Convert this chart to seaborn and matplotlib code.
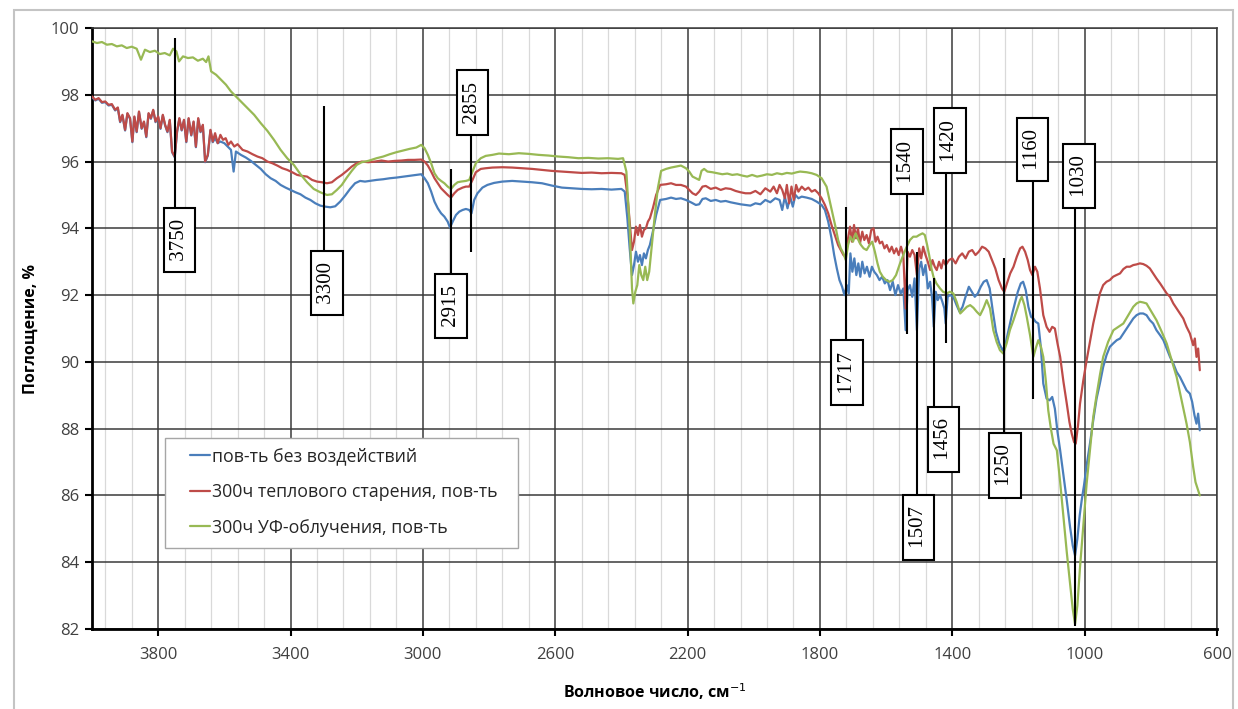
import numpy as np
import pandas as pd
import matplotlib
matplotlib.use("Agg")
import matplotlib.pyplot as plt
from matplotlib.patches import Rectangle
import seaborn as sns

# spectra: (wavenumber cm-1, %)
blue = [
    (4000, 97.93), (3990, 97.83), (3980, 97.88), (3970, 97.76), (3960, 97.78), (3950, 97.68),
    (3940, 97.70), (3930, 97.53), (3922, 97.60), (3915, 97.18), (3908, 97.38), (3900, 96.93),
    (3893, 97.43), (3885, 97.28), (3878, 96.58), (3872, 97.33), (3865, 96.88), (3858, 97.48),
    (3850, 96.98), (3843, 97.18), (3836, 96.73), (3829, 97.43), (3822, 97.28), (3815, 97.53),
    (3808, 97.18), (3800, 97.33), (3793, 96.98), (3786, 97.38), (3779, 97.08), (3772, 96.88),
    (3765, 97.23), (3758, 96.28), (3750, 96.13), (3743, 96.88), (3736, 97.28), (3729, 96.93),
    (3722, 97.23), (3715, 96.58), (3708, 97.28), (3700, 96.78), (3693, 97.18), (3686, 96.43),
    (3679, 97.28), (3672, 96.88), (3665, 97.08), (3658, 95.98), (3650, 96.18), (3642, 96.93),
    (3635, 96.58), (3628, 96.70), (3620, 96.55), (3612, 96.60), (3600, 96.55), (3590, 96.45),
    (3580, 96.35), (3572, 95.70), (3565, 96.30), (3550, 96.20), (3535, 96.12), (3520, 96.02),
    (3505, 95.90), (3490, 95.78), (3475, 95.62), (3460, 95.50), (3445, 95.42), (3430, 95.30),
    (3415, 95.22), (3400, 95.15), (3385, 95.08), (3370, 95.02), (3355, 94.92), (3340, 94.85),
    (3325, 94.75), (3310, 94.68), (3295, 94.65), (3280, 94.63), (3265, 94.66), (3250, 94.80),
    (3235, 94.98), (3220, 95.18), (3205, 95.35), (3190, 95.42), (3175, 95.40), (3160, 95.42),
    (3140, 95.45), (3120, 95.47), (3100, 95.50), (3080, 95.52), (3060, 95.55), (3040, 95.57),
    (3020, 95.60), (3005, 95.62), (2995, 95.50), (2985, 95.35), (2975, 95.10), (2965, 94.80),
    (2955, 94.60), (2945, 94.45), (2935, 94.35), (2925, 94.20), (2918, 94.02), (2910, 94.20),
    (2900, 94.40), (2890, 94.50), (2880, 94.55), (2870, 94.58), (2860, 94.55), (2853, 94.45),
    (2845, 94.85), (2835, 95.05), (2820, 95.22), (2805, 95.30), (2785, 95.36), (2760, 95.40),
    (2730, 95.42), (2700, 95.40), (2670, 95.38), (2640, 95.35), (2610, 95.28), (2580, 95.22),
    (2550, 95.20), (2520, 95.18), (2490, 95.17), (2460, 95.18), (2430, 95.16), (2400, 95.18),
    (2390, 95.10), (2382, 94.30), (2375, 93.40), (2368, 92.60), (2362, 92.90), (2356, 93.30),
    (2350, 93.00), (2344, 93.20), (2338, 92.90), (2332, 93.25), (2326, 93.10), (2320, 93.35),
    (2314, 93.50), (2305, 93.90), (2295, 94.40), (2283, 94.85), (2265, 94.88), (2250, 94.92),
    (2235, 94.88), (2220, 94.90), (2205, 94.85), (2190, 94.78), (2175, 94.70), (2165, 94.72),
    (2155, 94.88), (2145, 94.90), (2130, 94.82), (2115, 94.85), (2100, 94.80), (2085, 94.82),
    (2070, 94.78), (2055, 94.75), (2040, 94.72), (2025, 94.70), (2010, 94.68), (1995, 94.75),
    (1980, 94.72), (1965, 94.85), (1950, 94.78), (1935, 94.90), (1922, 94.85), (1914, 94.55),
    (1906, 94.95), (1898, 94.60), (1890, 94.95), (1882, 94.65), (1874, 95.00), (1865, 94.90),
    (1855, 94.95), (1840, 94.92), (1825, 94.88), (1810, 94.80), (1795, 94.70), (1785, 94.55),
    (1775, 94.20), (1765, 93.70), (1757, 93.20), (1749, 92.80), (1741, 92.45), (1733, 92.25),
    (1726, 92.00), (1719, 92.30), (1713, 92.05), (1708, 93.25), (1702, 92.70), (1696, 93.10),
    (1690, 92.60), (1684, 92.95), (1678, 92.55), (1672, 93.00), (1665, 92.65), (1658, 92.85),
    (1650, 92.55), (1643, 92.85), (1636, 92.70), (1628, 92.60), (1620, 92.45), (1612, 92.55),
    (1604, 92.35), (1596, 92.45), (1588, 92.15), (1580, 92.40), (1572, 92.00), (1564, 92.30),
    (1556, 92.05), (1548, 92.20), (1541, 90.95), (1535, 92.15), (1528, 92.30), (1521, 91.95),
    (1514, 92.50), (1507, 90.95), (1500, 92.80), (1494, 93.00), (1488, 92.60), (1481, 92.90),
    (1474, 92.20), (1467, 92.40), (1461, 91.90), (1456, 91.05), (1450, 92.10), (1444, 91.85),
    (1437, 92.00), (1430, 91.80), (1424, 91.60), (1420, 91.15), (1414, 91.95), (1407, 92.00),
    (1397, 91.95), (1387, 91.70), (1378, 91.50), (1369, 91.65), (1360, 91.95), (1350, 92.25),
    (1341, 92.10), (1332, 91.95), (1323, 92.05), (1314, 92.25), (1305, 92.40), (1296, 92.45),
    (1287, 92.20), (1278, 91.55), (1268, 90.90), (1258, 90.55), (1248, 90.35), (1240, 90.50),
    (1230, 90.95), (1220, 91.40), (1211, 91.75), (1202, 92.10), (1193, 92.35), (1186, 92.40),
    (1178, 92.15), (1170, 91.65), (1162, 91.35), (1155, 91.30), (1148, 91.20), (1140, 91.15),
    (1132, 90.40), (1125, 89.35), (1115, 88.90), (1106, 88.85), (1098, 88.95), (1090, 88.60),
    (1082, 87.90), (1074, 87.35), (1064, 86.60), (1054, 85.85), (1044, 85.05), (1036, 84.50),
    (1029, 84.20), (1022, 84.70), (1015, 85.40), (1009, 85.85), (1002, 86.30), (994, 86.90),
    (984, 87.55), (974, 88.25), (964, 88.90), (954, 89.35), (944, 89.85), (934, 90.20),
    (924, 90.45), (914, 90.55), (903, 90.65), (893, 90.70), (883, 90.85), (873, 91.00),
    (863, 91.15), (853, 91.30), (843, 91.40), (833, 91.45), (823, 91.45), (813, 91.40),
    (803, 91.25), (793, 91.15), (783, 90.95), (772, 90.80), (762, 90.65), (752, 90.40),
    (742, 90.15), (732, 89.95), (722, 89.70), (712, 89.55), (702, 89.35), (692, 89.15),
    (682, 89.05), (675, 88.80), (668, 88.40), (662, 88.15), (657, 88.45), (652, 87.95),
]

red = [
    (4000, 97.95), (3990, 97.85), (3980, 97.90), (3970, 97.78), (3960, 97.80), (3950, 97.70),
    (3940, 97.72), (3930, 97.55), (3922, 97.62), (3915, 97.20), (3908, 97.40), (3900, 96.95),
    (3893, 97.45), (3885, 97.30), (3878, 96.60), (3872, 97.35), (3865, 96.90), (3858, 97.50),
    (3850, 97.00), (3843, 97.20), (3836, 96.75), (3829, 97.45), (3822, 97.30), (3815, 97.55),
    (3808, 97.20), (3800, 97.35), (3793, 97.00), (3786, 97.40), (3779, 97.10), (3772, 96.90),
    (3765, 97.25), (3758, 96.30), (3750, 96.15), (3743, 96.90), (3736, 97.30), (3729, 96.95),
    (3722, 97.25), (3715, 96.60), (3708, 97.30), (3700, 96.80), (3693, 97.20), (3686, 96.45),
    (3679, 97.30), (3672, 96.90), (3665, 97.10), (3658, 96.00), (3650, 96.20), (3642, 96.95),
    (3635, 96.60), (3628, 96.85), (3620, 96.55), (3612, 96.80), (3604, 96.65), (3596, 96.70),
    (3588, 96.50), (3580, 96.60), (3570, 96.45), (3560, 96.52), (3545, 96.35), (3530, 96.30),
    (3515, 96.22), (3500, 96.15), (3485, 96.10), (3470, 96.00), (3455, 95.95), (3440, 95.88),
    (3425, 95.80), (3410, 95.75), (3395, 95.68), (3380, 95.60), (3365, 95.57), (3350, 95.55),
    (3335, 95.45), (3320, 95.40), (3305, 95.38), (3290, 95.35), (3275, 95.38), (3260, 95.50),
    (3245, 95.60), (3230, 95.72), (3215, 95.85), (3200, 95.95), (3185, 96.00), (3165, 95.98),
    (3145, 96.00), (3125, 96.03), (3105, 96.00), (3085, 96.02), (3065, 96.03), (3045, 96.05),
    (3025, 96.05), (3005, 96.06), (2995, 96.00), (2985, 95.88), (2975, 95.70), (2965, 95.50),
    (2955, 95.35), (2945, 95.20), (2935, 95.10), (2925, 95.00), (2915, 94.92), (2905, 95.05),
    (2895, 95.15), (2880, 95.22), (2870, 95.25), (2860, 95.25), (2850, 95.45), (2840, 95.68),
    (2825, 95.78), (2810, 95.80), (2790, 95.82), (2760, 95.83), (2730, 95.82), (2700, 95.80),
    (2670, 95.78), (2640, 95.75), (2610, 95.72), (2580, 95.70), (2550, 95.68), (2520, 95.66),
    (2490, 95.67), (2460, 95.65), (2430, 95.66), (2400, 95.65), (2390, 95.60), (2382, 95.00),
    (2375, 94.20), (2368, 93.35), (2362, 93.60), (2356, 94.05), (2350, 93.80), (2344, 94.10),
    (2338, 93.75), (2332, 93.95), (2326, 94.00), (2320, 94.20), (2314, 94.30), (2305, 94.60),
    (2295, 95.00), (2283, 95.30), (2265, 95.32), (2250, 95.35), (2235, 95.30), (2220, 95.30),
    (2205, 95.25), (2195, 95.15), (2185, 95.05), (2175, 95.00), (2165, 95.10), (2155, 95.25),
    (2145, 95.27), (2130, 95.18), (2115, 95.22), (2100, 95.15), (2085, 95.20), (2070, 95.18),
    (2055, 95.12), (2040, 95.08), (2025, 95.05), (2010, 95.05), (1995, 95.12), (1980, 95.02),
    (1965, 95.20), (1950, 95.10), (1940, 95.25), (1930, 95.05), (1922, 95.30), (1914, 95.15),
    (1906, 94.90), (1900, 95.30), (1893, 94.75), (1886, 95.25), (1879, 94.85), (1872, 95.30),
    (1865, 95.10), (1855, 95.25), (1845, 95.15), (1835, 95.22), (1825, 95.10), (1815, 95.15),
    (1805, 95.05), (1795, 94.90), (1785, 94.70), (1775, 94.45), (1765, 94.10), (1755, 93.80),
    (1745, 93.50), (1737, 93.35), (1729, 93.20), (1722, 93.15), (1715, 93.70), (1709, 94.05),
    (1703, 93.60), (1697, 94.10), (1691, 93.70), (1685, 94.00), (1679, 93.55), (1672, 93.90),
    (1666, 93.65), (1659, 93.80), (1652, 93.55), (1645, 93.95), (1638, 94.00), (1632, 93.60),
    (1626, 93.75), (1619, 93.55), (1612, 93.60), (1605, 93.40), (1598, 93.50), (1590, 93.30),
    (1583, 93.45), (1576, 93.25), (1569, 93.40), (1562, 93.20), (1555, 93.45), (1548, 93.20),
    (1541, 91.60), (1535, 93.30), (1528, 93.15), (1521, 93.35), (1514, 93.20), (1507, 92.60),
    (1500, 93.40), (1494, 93.10), (1488, 93.45), (1481, 93.20), (1474, 93.00), (1467, 92.75),
    (1460, 93.05), (1453, 92.85), (1447, 92.75), (1440, 93.00), (1433, 92.80), (1427, 93.05),
    (1420, 92.90), (1410, 93.05), (1400, 93.10), (1390, 92.95), (1380, 93.15), (1370, 93.25),
    (1360, 93.10), (1350, 93.30), (1340, 93.35), (1330, 93.20), (1320, 93.30), (1310, 93.45),
    (1300, 93.40), (1290, 93.30), (1280, 93.05), (1270, 92.80), (1260, 92.45), (1250, 92.20),
    (1243, 92.10), (1235, 92.35), (1225, 92.65), (1215, 92.85), (1205, 93.15), (1195, 93.40),
    (1188, 93.45), (1180, 93.30), (1172, 93.05), (1165, 92.75), (1158, 92.60), (1150, 92.85),
    (1143, 92.70), (1135, 92.20), (1125, 91.40), (1115, 91.05), (1106, 90.90), (1098, 91.05),
    (1090, 91.00), (1082, 90.55), (1074, 90.15), (1064, 89.40), (1054, 88.75), (1046, 88.20),
    (1039, 87.85), (1032, 87.60), (1027, 87.55), (1020, 88.10), (1014, 88.75), (1004, 89.45),
    (994, 90.05), (984, 90.60), (974, 91.15), (964, 91.60), (954, 92.05), (944, 92.30),
    (934, 92.40), (924, 92.45), (914, 92.55), (904, 92.60), (893, 92.65), (883, 92.78),
    (873, 92.85), (863, 92.85), (853, 92.90), (843, 92.92), (833, 92.95), (823, 92.93),
    (813, 92.88), (803, 92.80), (793, 92.65), (783, 92.50), (772, 92.35), (762, 92.20),
    (752, 92.05), (742, 91.95), (732, 91.75), (722, 91.60), (712, 91.45), (702, 91.30),
    (692, 91.05), (682, 90.85), (672, 90.50), (667, 90.70), (662, 90.15), (657, 90.40),
    (652, 89.75),
]

green = [
    (4000, 99.60), (3985, 99.55), (3970, 99.58), (3955, 99.50), (3940, 99.52), (3925, 99.45),
    (3910, 99.48), (3895, 99.40), (3880, 99.44), (3865, 99.38), (3852, 99.05), (3840, 99.35),
    (3825, 99.28), (3810, 99.32), (3795, 99.22), (3780, 99.25), (3765, 99.18), (3755, 99.38),
    (3745, 99.30), (3737, 99.00), (3725, 99.15), (3710, 99.10), (3695, 99.12), (3680, 99.02),
    (3665, 99.08), (3655, 98.98), (3648, 99.15), (3640, 98.70), (3625, 98.60), (3610, 98.45),
    (3595, 98.30), (3580, 98.10), (3565, 97.95), (3550, 97.80), (3530, 97.60), (3510, 97.40),
    (3490, 97.15), (3470, 96.92), (3450, 96.65), (3430, 96.35), (3410, 96.10), (3390, 95.90),
    (3370, 95.62), (3350, 95.38), (3330, 95.18), (3310, 95.08), (3290, 95.00), (3275, 95.02),
    (3260, 95.15), (3245, 95.30), (3230, 95.52), (3215, 95.72), (3200, 95.90), (3185, 95.98),
    (3165, 96.02), (3140, 96.10), (3120, 96.15), (3100, 96.22), (3080, 96.28), (3060, 96.33),
    (3040, 96.38), (3020, 96.42), (3005, 96.50), (2995, 96.40), (2985, 96.20), (2975, 95.95),
    (2965, 95.65), (2955, 95.50), (2945, 95.42), (2935, 95.35), (2925, 95.25), (2915, 95.18),
    (2905, 95.30), (2895, 95.38), (2885, 95.40), (2870, 95.42), (2860, 95.45), (2850, 95.70),
    (2840, 95.95), (2825, 96.10), (2810, 96.17), (2790, 96.20), (2770, 96.24), (2740, 96.22),
    (2710, 96.25), (2680, 96.23), (2650, 96.20), (2620, 96.18), (2590, 96.15), (2560, 96.13),
    (2530, 96.10), (2500, 96.11), (2470, 96.09), (2440, 96.10), (2410, 96.08), (2395, 96.10),
    (2385, 95.70), (2375, 94.00), (2368, 92.20), (2364, 91.75), (2358, 92.10), (2352, 92.30),
    (2346, 92.90), (2340, 92.60), (2334, 92.45), (2328, 92.85), (2322, 92.45), (2316, 92.70),
    (2310, 93.30), (2300, 94.30), (2290, 95.20), (2280, 95.72), (2265, 95.78), (2250, 95.82),
    (2235, 95.85), (2220, 95.88), (2205, 95.80), (2195, 95.70), (2185, 95.55), (2175, 95.50),
    (2165, 95.45), (2158, 95.72), (2150, 95.78), (2140, 95.70), (2125, 95.68), (2110, 95.65),
    (2095, 95.62), (2080, 95.64), (2065, 95.60), (2050, 95.62), (2035, 95.58), (2020, 95.55),
    (2005, 95.60), (1990, 95.55), (1975, 95.58), (1960, 95.62), (1945, 95.60), (1930, 95.65),
    (1915, 95.62), (1900, 95.66), (1885, 95.64), (1870, 95.68), (1860, 95.70), (1840, 95.68),
    (1825, 95.65), (1810, 95.60), (1795, 95.50), (1780, 95.25), (1770, 94.80), (1760, 94.35),
    (1752, 94.00), (1745, 93.65), (1737, 93.40), (1729, 93.25), (1722, 93.05), (1715, 93.50),
    (1708, 93.75), (1700, 93.60), (1692, 93.85), (1684, 93.65), (1676, 93.50), (1668, 93.40),
    (1659, 93.35), (1650, 93.50), (1642, 93.60), (1634, 93.30), (1626, 92.95), (1619, 92.70),
    (1610, 92.55), (1600, 92.45), (1590, 92.40), (1580, 92.45), (1570, 92.60), (1558, 92.95),
    (1548, 93.20), (1540, 93.40), (1528, 93.65), (1518, 93.75), (1508, 93.75), (1500, 93.80),
    (1490, 93.85), (1483, 93.80), (1476, 93.50), (1470, 93.20), (1463, 92.80), (1457, 92.55),
    (1448, 92.35), (1437, 92.20), (1428, 92.10), (1417, 92.05), (1407, 92.10), (1397, 92.05),
    (1387, 91.80), (1376, 91.45), (1366, 91.55), (1356, 91.65), (1346, 91.70), (1336, 91.62),
    (1326, 91.50), (1316, 91.40), (1306, 91.60), (1296, 91.85), (1286, 91.60), (1276, 90.95),
    (1266, 90.60), (1256, 90.35), (1246, 90.25), (1236, 90.55), (1226, 90.95), (1215, 91.25),
    (1205, 91.55), (1195, 91.85), (1190, 91.95), (1182, 91.70), (1175, 91.35), (1165, 90.80),
    (1155, 90.15), (1148, 90.40), (1140, 90.65), (1132, 90.45), (1125, 90.15), (1117, 89.40),
    (1110, 88.55), (1102, 88.00), (1094, 87.55), (1084, 87.35), (1074, 86.40), (1064, 85.35),
    (1054, 84.30), (1044, 83.35), (1036, 82.60), (1029, 82.15), (1022, 82.70), (1014, 83.85),
    (1004, 85.10), (994, 86.35), (984, 87.35), (974, 88.35), (964, 89.00), (954, 89.60),
    (944, 90.15), (929, 90.60), (913, 90.95), (898, 91.05), (883, 91.15), (868, 91.40),
    (853, 91.65), (843, 91.75), (833, 91.80), (823, 91.78), (813, 91.75), (798, 91.50),
    (783, 91.25), (767, 90.90), (752, 90.55), (737, 90.05), (722, 89.55), (707, 88.85),
    (692, 88.15), (682, 87.60), (672, 86.85), (665, 86.40), (657, 86.15), (652, 86.00),
]

series_names = [
    "пов-ть без воздействий",
    "300ч теплового старения, пов-ть",
    "300ч УФ-облучения, пов-ть",
]
series_colors = ["#4a7ebb", "#be4b48", "#98b954"]

# peak labels: text, line x, line end y, box x, box centre y
peak_labels = ["3750", "3300", "2915", "2855", "1717", "1540", "1420",
               "1160", "1030", "1507", "1456", "1250"]
peak_line_x = [3750, 3300, 2915, 2855, 1720, 1537, 1420, 1157, 1029, 1506, 1455, 1244]
peak_line_y = [99.70, 97.66, 95.78, 93.29, 94.64, 90.85, 90.57, 88.90, 82.10, 93.30, 92.50, 93.10]
peak_box_x = [3735, 3290, 2915, 2850, 1718, 1537, 1407, 1157, 1017, 1502, 1426, 1241]
peak_box_y = [93.65, 92.36, 91.67, 97.77, 89.68, 96.00, 96.63, 96.36, 95.57, 85.05, 87.68, 86.90]

frames = []
for name, pts in zip(series_names, [blue, red, green]):
    d = pd.DataFrame(pts, columns=["wn", "pct"])
    d["series"] = name
    frames.append(d)
df = pd.concat(frames, ignore_index=True)

sns.set_theme(style="white")
plt.rcParams["font.family"] = ["Open Sans", "DejaVu Sans"]

W, H = 1238, 709
fig = plt.figure(figsize=(W / 100, H / 100), dpi=100)
ax = fig.add_axes([92 / W, 1 - 629 / H, (1217 - 92) / W, (629 - 28) / H])

fig.patches.append(Rectangle((14 / W, -0.01), (1233 - 14) / W, 1 - 10 / H + 0.01,
                             transform=fig.transFigure, fill=False,
                             ec="#c4c4c4", lw=1.5, zorder=0))

sns.lineplot(data=df, x="wn", y="pct", hue="series", hue_order=series_names,
             palette=series_colors, estimator=None, lw=1.6, ax=ax, zorder=3)

ax.set_xlim(4000, 600)
ax.set_ylim(82, 100)
ax.set_xticks(np.arange(3800, 599, -400))
ax.set_xticks([v for v in range(680, 4000, 80) if (v - 600) % 400], minor=True)
ax.set_yticks(np.arange(82, 100.1, 2))
ax.grid(True, which="major", color="#3a3a3a", lw=1.1, zorder=1)
ax.grid(True, which="minor", axis="x", color="#d9d9d9", lw=0.9, zorder=0)
ax.set_axisbelow(True)

ax.tick_params(axis="both", which="major", direction="out", length=5, width=1.5,
               color="black", labelsize=12, labelcolor="#404040", pad=4)
ax.tick_params(axis="x", which="major", bottom=True, pad=8)
ax.tick_params(axis="y", which="major", left=True)
ax.tick_params(which="minor", length=0)
for side in ["left", "bottom"]:
    ax.spines[side].set_color("black")
    ax.spines[side].set_linewidth(2)
for side in ["top", "right"]:
    ax.spines[side].set_color("#3a3a3a")
    ax.spines[side].set_linewidth(1.1)

ax.set_xlabel("Волновое число, см$^{-1}$", fontsize=11.5, fontweight="bold",
              color="black", labelpad=13)
ax.set_ylabel("Поглощение, %", fontsize=11.5, fontweight="bold", color="black",
              labelpad=9)

# peak markers
for lab, lx, ly, bx, by in zip(peak_labels, peak_line_x, peak_line_y, peak_box_x, peak_box_y):
    ax.plot([lx, lx], [ly, by], color="black", lw=1.5, zorder=4, solid_capstyle="butt")
    ax.text(bx, by, " " + lab + " ", rotation=90, ha="center", va="center",
            rotation_mode="anchor", fontsize=15, family="Liberation Serif",
            color="black", zorder=5,
            bbox=dict(boxstyle="square,pad=0.3", fc="white", ec="black", lw=1.5))

# legend: frame drawn as its own box, entries placed inside it
ax.add_patch(Rectangle((73 / 1125, 81 / 601), 353 / 1125, 110 / 601,
                       transform=ax.transAxes, fc="white", ec="#a6a6a6", lw=1.0,
                       zorder=6))
leg = ax.legend(loc="upper left", bbox_to_anchor=(98 / 1125, 182 / 601),
                borderaxespad=0, borderpad=0, frameon=False, fontsize=12.8,
                handlelength=1.1, handletextpad=0.15, labelspacing=1.0)
for h in leg.get_lines():
    h.set_linewidth(1.6)
leg.set_zorder(7)

fig.savefig("out.png", dpi=100)
